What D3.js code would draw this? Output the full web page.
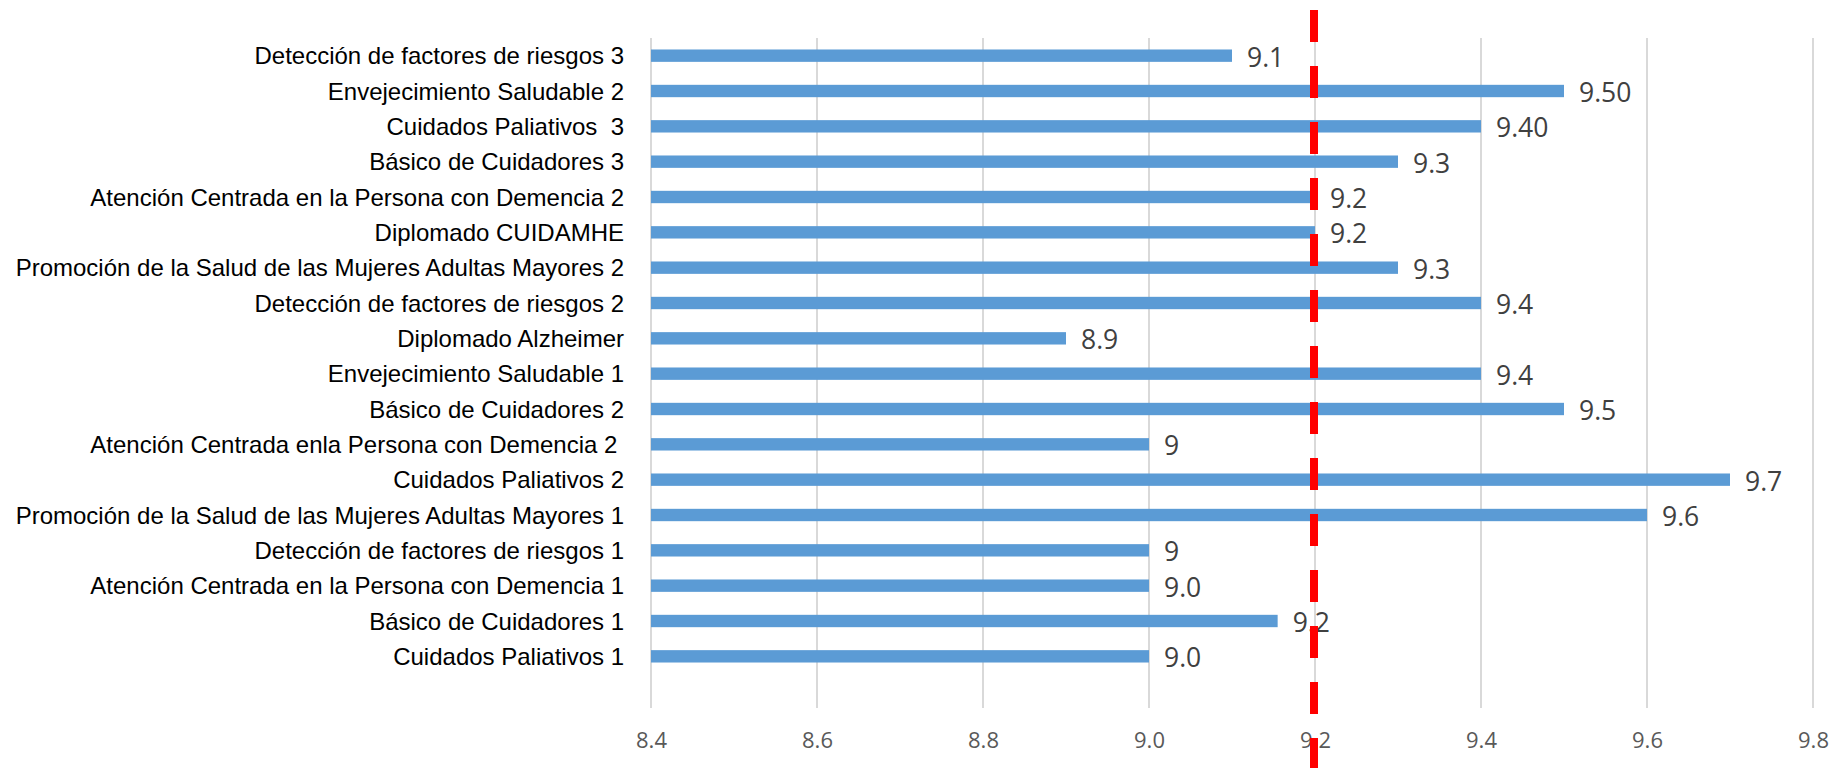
<!DOCTYPE html>
<html>
<head>
<meta charset="utf-8">
<script src="https://cdn.jsdelivr.net/npm/d3@7"></script>
<style>
  html, body { margin: 0; padding: 0; background: #ffffff; }
  svg { display: block; }
  text { white-space: pre; }
</style>
</head>
<body>
<svg id="chart" width="1830" height="768"></svg>
<script>
// ---- data (top to bottom as drawn) ----
const categories = [
  "Detección de factores de riesgos 3",
  "Envejecimiento Saludable 2",
  "Cuidados Paliativos  3",
  "Básico de Cuidadores 3",
  "Atención Centrada en la Persona con Demencia 2",
  "Diplomado CUIDAMHE",
  "Promoción de la Salud de las Mujeres Adultas Mayores 2",
  "Detección de factores de riesgos 2",
  "Diplomado Alzheimer",
  "Envejecimiento Saludable 1",
  "Básico de Cuidadores 2",
  "Atención Centrada enla Persona con Demencia 2 ",
  "Cuidados Paliativos 2",
  "Promoción de la Salud de las Mujeres Adultas Mayores 1",
  "Detección de factores de riesgos 1",
  "Atención Centrada en la Persona con Demencia 1",
  "Básico de Cuidadores 1",
  "Cuidados Paliativos 1"
];
const values = [9.1, 9.5, 9.4, 9.3, 9.2, 9.2, 9.3, 9.4, 8.9, 9.4, 9.5, 9.0, 9.7, 9.6, 9.0, 9.0, 9.155, 9.0];
const valueLabels = ["9.1", "9.50", "9.40", "9.3", "9.2", "9.2", "9.3", "9.4", "8.9", "9.4", "9.5", "9", "9.7", "9.6", "9", "9.0", "9.2", "9.0"];
const tickValues = [8.4, 8.6, 8.8, 9.0, 9.2, 9.4, 9.6, 9.8];
const xDomain = [8.4, 9.8];
const referenceValue = 9.2;

// ---- layout ----
const svg = d3.select("#chart");
const plot = { left: 651, right: 1813, top: 38, bottom: 708, bandTop: 38, bandBottom: 674 };

const x = d3.scaleLinear().domain(xDomain).range([plot.left, plot.right]);
const y = d3.scaleBand()
  .domain(categories)
  .range([plot.bandTop, plot.bandBottom])
  .paddingInner(0.65)
  .paddingOuter(0.325);

// gridlines
svg.append("g")
  .selectAll("line")
  .data(tickValues)
  .join("line")
  .attr("x1", d => x(d)).attr("x2", d => x(d))
  .attr("y1", plot.top).attr("y2", plot.bottom)
  .attr("stroke", "#d9d9d9")
  .attr("stroke-width", 2);

// x axis tick labels
const xAxis = d3.axisBottom(x).tickValues(tickValues).tickFormat(d3.format(".1f")).tickSize(0).tickPadding(0);
const gx = svg.append("g").attr("transform", `translate(0,${plot.bottom})`).call(xAxis);
gx.select(".domain").remove();
gx.selectAll("text")
  .attr("y", 40)
  .attr("dy", 0)
  .attr("font-family", "'Open Sans', 'DejaVu Sans', sans-serif")
  .attr("font-size", 22)
  .attr("fill", "#595959");

// category labels
const yAxis = d3.axisLeft(y).tickSize(0).tickPadding(0);
const gy = svg.append("g").attr("transform", `translate(624,0)`).call(yAxis);
gy.select(".domain").remove();
gy.selectAll("text")
  .attr("x", 0)
  .attr("dy", 8.5)
  .attr("font-family", "'Liberation Sans', Arial, sans-serif")
  .attr("font-size", 24)
  .attr("fill", "#000000");

// bars
svg.append("g")
  .selectAll("rect")
  .data(categories)
  .join("rect")
  .attr("x", x(xDomain[0]))
  .attr("y", d => y(d))
  .attr("width", (d, i) => x(values[i]) - x(xDomain[0]))
  .attr("height", y.bandwidth())
  .attr("fill", "#5b9bd5");

// value labels
svg.append("g")
  .selectAll("text")
  .data(categories)
  .join("text")
  .attr("x", (d, i) => x(values[i]) + 15)
  .attr("y", d => y(d) + y.bandwidth() / 2 + 11)
  .attr("font-family", "'Open Sans', 'DejaVu Sans', sans-serif")
  .attr("font-size", 26.5)
  .attr("fill", "#404040")
  .text((d, i) => valueLabels[i]);

// red dashed reference line
svg.append("line")
  .attr("x1", x(referenceValue) - 1).attr("x2", x(referenceValue) - 1)
  .attr("y1", 10).attr("y2", 768)
  .attr("stroke", "#ff0000")
  .attr("stroke-width", 8)
  .attr("stroke-dasharray", "32,24");
</script>
</body>
</html>
